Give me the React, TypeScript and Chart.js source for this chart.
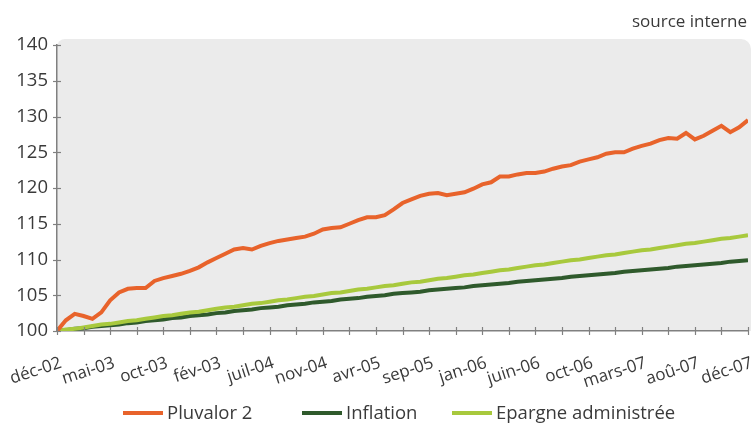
import React, { useEffect, useRef } from "react";
import { Chart, registerables } from "chart.js";

Chart.register(...registerables);

const xLabels = [
  "déc-02", "mai-03", "oct-03", "fév-03", "juil-04", "nov-04", "avr-05",
  "sep-05", "jan-06", "juin-06", "oct-06", "mars-07", "aoû-07", "déc-07",
];
const yTicks = [100, 105, 110, 115, 120, 125, 130, 135, 140];

const pluvalor = [
  100.0, 101.5, 102.4, 102.1, 101.7, 102.6, 104.3, 105.4, 105.9, 106.0,
  106.0, 107.0, 107.4, 107.7, 108.0, 108.4, 108.9, 109.6, 110.2, 110.8,
  111.4, 111.6, 111.4, 111.9, 112.3, 112.6, 112.8, 113.0, 113.2, 113.6,
  114.2, 114.4, 114.5, 115.0, 115.5, 115.9, 115.9, 116.2, 117.0, 117.9,
  118.4, 118.9, 119.2, 119.3, 119.0, 119.2, 119.4, 119.9, 120.5, 120.8,
  121.6, 121.6, 121.9, 122.1, 122.1, 122.3, 122.7, 123.0, 123.2, 123.7,
  124.0, 124.3, 124.8, 125.0, 125.0, 125.5, 125.9, 126.2, 126.7, 127.0,
  126.9, 127.7, 126.8, 127.3, 128.0, 128.7, 127.8, 128.5, 129.5,
];
const inflation = [
  100.0, 100.1, 100.3, 100.4, 100.6, 100.7, 100.8, 100.9, 101.1, 101.2,
  101.4, 101.5, 101.6, 101.8, 101.9, 102.1, 102.2, 102.3, 102.5, 102.6,
  102.8, 102.9, 103.0, 103.2, 103.3, 103.4, 103.6, 103.7, 103.8, 104.0,
  104.1, 104.2, 104.4, 104.5, 104.6, 104.8, 104.9, 105.0, 105.2, 105.3,
  105.4, 105.5, 105.7, 105.8, 105.9, 106.0, 106.1, 106.3, 106.4, 106.5,
  106.6, 106.7, 106.9, 107.0, 107.1, 107.2, 107.3, 107.4, 107.6, 107.7,
  107.8, 107.9, 108.0, 108.1, 108.3, 108.4, 108.5, 108.6, 108.7, 108.8,
  109.0, 109.1, 109.2, 109.3, 109.4, 109.5, 109.7, 109.8, 109.9,
];
const epargne = [
  100.0, 100.2, 100.3, 100.5, 100.7, 100.9, 101.0, 101.2, 101.4, 101.5,
  101.7, 101.9, 102.1, 102.2, 102.4, 102.6, 102.7, 102.9, 103.1, 103.3,
  103.4, 103.6, 103.8, 103.9, 104.1, 104.3, 104.4, 104.6, 104.8, 104.9,
  105.1, 105.3, 105.4, 105.6, 105.8, 105.9, 106.1, 106.3, 106.4, 106.6,
  106.8, 106.9, 107.1, 107.3, 107.4, 107.6, 107.8, 107.9, 108.1, 108.3,
  108.5, 108.6, 108.8, 109.0, 109.2, 109.3, 109.5, 109.7, 109.9, 110.0,
  110.2, 110.4, 110.6, 110.7, 110.9, 111.1, 111.3, 111.4, 111.6, 111.8,
  112.0, 112.2, 112.3, 112.5, 112.7, 112.9, 113.0, 113.2, 113.4,
];

const seriesNames = ["Pluvalor 2", "Inflation", "Epargne administrée"];
const seriesColors = ["#E8632B", "#2F5A2C", "#A8C93D"];
const sourceText = "source interne";

const FONT = "'Open Sans', 'DejaVu Sans', sans-serif";
const TEXT = "#3a3a3a";
const AXIS = "#808080";

const pointsPerLabel = (pluvalor.length - 1) / (xLabels.length - 1);

const toXY = (arr: number[]) => arr.map((y, i) => ({ x: i, y }));

const decorPlugin = {
  id: "decor",
  beforeDraw(chart: any) {
    const { ctx, chartArea } = chart;
    const { left, top, bottom } = chartArea;
    ctx.save();
    ctx.fillStyle = "#ebebeb";
    ctx.beginPath();
    const w = chart.width - left;
    (ctx as any).roundRect(left, top - 6, w, bottom - top + 6, [8, 10, 0, 0]);
    ctx.fill();
    ctx.restore();
  },
  afterDraw(chart: any) {
    const { ctx, chartArea, scales } = chart;
    ctx.save();
    ctx.strokeStyle = AXIS;
    ctx.lineWidth = 1.2;
    scales.y.ticks.forEach((t: any) => {
      const py = Math.round(scales.y.getPixelForValue(t.value)) + 0.5;
      ctx.beginPath();
      ctx.moveTo(chartArea.left - 4, py);
      ctx.lineTo(chartArea.left + 4, py);
      ctx.stroke();
    });
    scales.x.ticks.forEach((t: any) => {
      const px = Math.round(scales.x.getPixelForValue(t.value)) + 0.5;
      ctx.beginPath();
      ctx.moveTo(px, chartArea.bottom - 4);
      ctx.lineTo(px, chartArea.bottom + 4);
      ctx.stroke();
    });
    ctx.fillStyle = TEXT;
    ctx.font = `17px ${FONT}`;
    ctx.textAlign = "right";
    ctx.textBaseline = "middle";
    ctx.fillText(sourceText, 747, 22);
    ctx.font = `18.5px ${FONT}`;
    const boxW = 40, boxH = 4, gap = 4;
    const legendX = [123, 302, 452];
    const ly = 413;
    ctx.textAlign = "left";
    seriesNames.forEach((n, i) => {
      const x = legendX[i];
      ctx.fillStyle = seriesColors[i];
      ctx.fillRect(x, ly - boxH / 2, boxW, boxH);
      ctx.fillStyle = TEXT;
      ctx.fillText(n, x + boxW + gap, ly + 1);
    });
    ctx.restore();
  },
};

export default function App() {
  const ref = useRef<HTMLCanvasElement | null>(null);

  useEffect(() => {
    document.body.style.margin = "0";
    if (!ref.current) return;
    const series = [pluvalor, inflation, epargne];
    const orders = [0, 2, 1];
    const chart = new Chart(ref.current, {
      type: "line",
      data: {
        datasets: series.map((s, i) => ({
          label: seriesNames[i],
          data: toXY(s),
          borderColor: seriesColors[i],
          backgroundColor: seriesColors[i],
          borderWidth: 4,
          pointRadius: 0,
          tension: 0,
          order: orders[i],
        })),
      },
      options: {
        responsive: false,
        animation: false,
        layout: { padding: { top: 45, right: 3, bottom: 34, left: 0 } },
        plugins: {
          legend: { display: false },
          title: { display: false },
          tooltip: { enabled: false },
        },
        scales: {
          x: {
            type: "linear",
            min: 0,
            max: pluvalor.length - 1,
            grid: { display: false },
            border: { display: true, color: AXIS, width: 1.5 },
            afterFit: (scale: any) => {
              scale.height = 60;
              scale.paddingLeft = 0;
              scale.paddingRight = 0;
            },
            afterBuildTicks: (scale: any) => {
              const ticks = [];
              for (let i = 0; i <= pluvalor.length - 1; i += pointsPerLabel / 2) ticks.push({ value: i });
              scale.ticks = ticks;
            },
            ticks: {
              autoSkip: false,
              minRotation: 18,
              maxRotation: 18,
              padding: 14,
              labelOffset: 4,
              color: TEXT,
              font: { family: FONT, size: 17 },
              callback: (v: any) => {
                const idx = Number(v) / pointsPerLabel;
                return Number.isInteger(idx) ? xLabels[idx] : "";
              },
            },
          },
          y: {
            min: 100,
            max: 140,
            grid: { display: false },
            border: { display: true, color: AXIS, width: 1.5 },
            afterFit: (scale: any) => {
              scale.width = 57;
            },
            afterBuildTicks: (scale: any) => {
              scale.ticks = yTicks.map((v) => ({ value: v }));
            },
            ticks: {
              padding: 1,
              color: TEXT,
              font: { family: FONT, size: 18.5 },
            },
          },
        },
      },
      plugins: [decorPlugin],
    });
    return () => chart.destroy();
  }, []);

  return (
    <div style={{ width: 751, height: 425 }}>
      <canvas ref={ref} width={751} height={425} style={{ display: "block" }} />
    </div>
  );
}
